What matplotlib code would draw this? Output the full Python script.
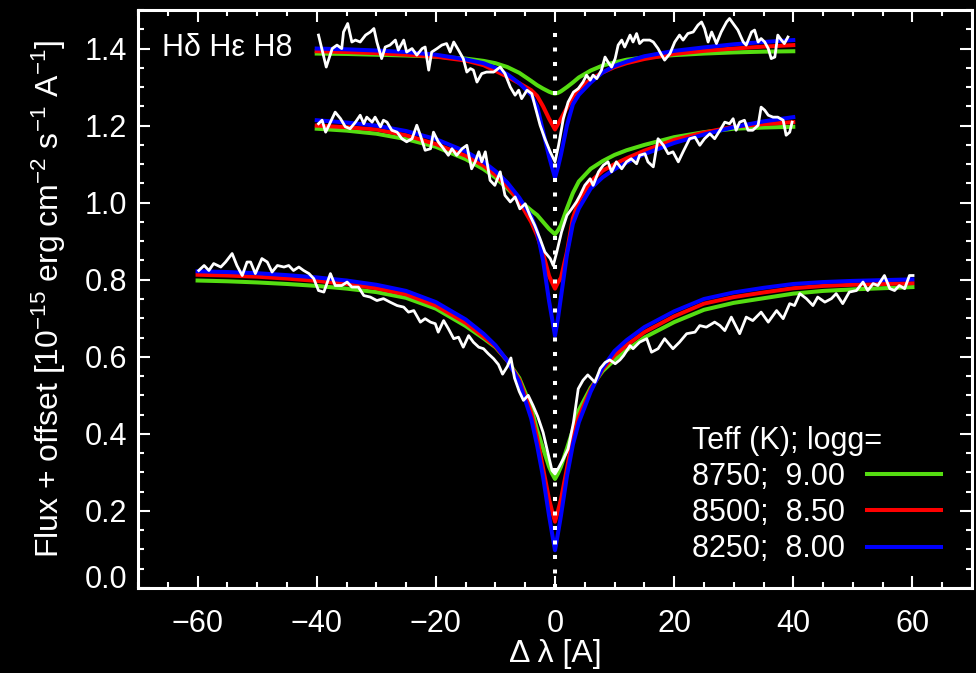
import matplotlib
matplotlib.use("Agg")
import matplotlib.pyplot as plt
from matplotlib.lines import Line2D
from matplotlib.ticker import MultipleLocator

plt.rcParams['font.family'] = ['Liberation Sans', 'DejaVu Sans']
plt.rcParams['mathtext.default'] = 'regular'

# model grids (delta lambda in A)
grid_wide = [-60, -55, -50, -45, -40, -35, -30, -25, -20, -15, -12, -10, -8, -6, -4, -3, -2, -1, -0.5, 0,
             0.5, 1, 2, 3, 4, 6, 8, 10, 12, 15, 20, 25, 30, 35, 40, 45, 50, 55, 60]
grid_narrow = [-40, -35, -30, -25, -20, -15, -12, -10, -8, -6, -4, -3, -2, -1, -0.5, 0,
               0.5, 1, 2, 3, 4, 6, 8, 10, 12, 15, 20, 25, 30, 35, 40]

# H-delta models (no offset)
hd_green = [0.798, 0.796, 0.793, 0.789, 0.784, 0.777, 0.768, 0.753, 0.725, 0.680, 0.648, 0.625, 0.590,
            0.545, 0.470, 0.410, 0.362, 0.315, 0.297, 0.283,
            0.297, 0.315, 0.362, 0.410, 0.462, 0.520, 0.563, 0.592, 0.617, 0.650, 0.690, 0.722, 0.740,
            0.752, 0.764, 0.771, 0.775, 0.778, 0.781]
hd_red = [0.813, 0.811, 0.808, 0.803, 0.797, 0.789, 0.778, 0.762, 0.733, 0.688, 0.652, 0.627, 0.590,
          0.540, 0.455, 0.390, 0.310, 0.230, 0.200, 0.172,
          0.200, 0.230, 0.310, 0.392, 0.445, 0.515, 0.568, 0.604, 0.630, 0.664, 0.705, 0.738, 0.755,
          0.767, 0.778, 0.784, 0.787, 0.789, 0.791]
hd_blue = [0.822, 0.820, 0.817, 0.812, 0.806, 0.798, 0.787, 0.771, 0.742, 0.697, 0.660, 0.630, 0.590,
           0.535, 0.440, 0.370, 0.288, 0.188, 0.142, 0.098,
           0.142, 0.188, 0.290, 0.372, 0.430, 0.510, 0.572, 0.615, 0.643, 0.677, 0.718, 0.750, 0.767,
           0.779, 0.789, 0.794, 0.797, 0.799, 0.801]

# H-epsilon models
he_green = [1.192, 1.187, 1.179, 1.165, 1.145, 1.113, 1.087, 1.065, 1.037, 1.006, 0.980, 0.968, 0.950,
            0.932, 0.925, 0.918,
            0.928, 0.942, 0.985, 1.025, 1.055, 1.088, 1.108, 1.124, 1.136, 1.150, 1.170, 1.183, 1.192,
            1.195, 1.197]
he_red = [1.200, 1.196, 1.190, 1.175, 1.152, 1.122, 1.096, 1.072, 1.042, 1.003, 0.950, 0.915, 0.868,
          0.810, 0.793, 0.777,
          0.793, 0.805, 0.872, 0.960, 1.005, 1.055, 1.083, 1.100, 1.115, 1.135, 1.163, 1.182, 1.197,
          1.204, 1.209]
he_blue = [1.214, 1.208, 1.200, 1.186, 1.165, 1.133, 1.106, 1.082, 1.052, 1.013, 0.965, 0.925, 0.850,
           0.745, 0.700, 0.655,
           0.700, 0.755, 0.865, 0.945, 0.985, 1.037, 1.066, 1.087, 1.104, 1.126, 1.155, 1.177, 1.196,
           1.211, 1.222]

# H8 models
h8_green = [1.387, 1.386, 1.384, 1.382, 1.379, 1.374, 1.368, 1.362, 1.352, 1.337, 1.316, 1.305, 1.296,
            1.288, 1.285, 1.283,
            1.285, 1.289, 1.300, 1.312, 1.325, 1.343, 1.356, 1.364, 1.371, 1.377, 1.383, 1.387, 1.390,
            1.392, 1.393]
h8_red = [1.393, 1.391, 1.388, 1.384, 1.379, 1.369, 1.357, 1.342, 1.327, 1.310, 1.292, 1.277, 1.250,
          1.218, 1.204, 1.190,
          1.204, 1.218, 1.246, 1.275, 1.295, 1.320, 1.338, 1.352, 1.362, 1.373, 1.386, 1.394, 1.400,
          1.405, 1.409]
h8_blue = [1.400, 1.398, 1.395, 1.391, 1.384, 1.372, 1.362, 1.350, 1.333, 1.310, 1.280, 1.250, 1.185,
           1.120, 1.092, 1.065,
           1.092, 1.125, 1.200, 1.255, 1.280, 1.312, 1.338, 1.355, 1.366, 1.380, 1.394, 1.403, 1.411,
           1.417, 1.422]

# observed spectra
hd_obs_x = [-59.8, -58.9, -58.1, -57.3, -56.1, -55.3, -54.2, -53.4, -52.5, -51.7, -51.1, -50.3, -49.2,
            -48.3, -47.5, -46.6, -45.5, -44.7, -43.9, -43.0, -42.2, -41.3, -40.5, -39.7, -38.8, -37.7,
            -36.9, -35.8, -34.9, -34.1, -33.0, -32.1, -31.0, -29.9, -28.8, -27.7, -26.5, -25.4, -24.6,
            -23.7, -22.6, -21.8, -20.9, -20.1, -19.6, -18.7, -17.9, -17.0, -16.2, -15.4, -14.5, -13.7,
            -12.8, -12.0, -11.2, -10.3, -9.5, -8.8, -8.0, -7.4, -6.8, -6.0, -5.3, -4.5, -3.7, -2.9,
            -2.0, -1.1, -0.5, 0.0, 0.5, 1.4, 2.2, 3.1, 3.9, 4.7, 5.5, 6.7, 7.6, 8.4, 9.2, 10.1, 10.9,
            11.5, 12.6, 13.1, 14.2, 15.4, 16.2, 17.3, 18.4, 19.8, 20.9, 22.1, 23.5, 24.3, 25.4, 26.8,
            27.7, 28.5, 29.6, 31.0, 32.1, 33.2, 34.6, 35.8, 37.2, 38.3, 39.4, 40.2, 41.1, 42.2, 43.3,
            44.1, 45.3, 46.4, 47.2, 48.3, 49.4, 50.6, 51.7, 52.5, 53.4, 54.2, 55.3, 56.2, 57.0, 57.8,
            58.7, 59.5, 60.1]
hd_obs_y = [0.824, 0.837, 0.824, 0.842, 0.833, 0.846, 0.868, 0.837, 0.811, 0.846, 0.846, 0.816, 0.855,
            0.846, 0.820, 0.837, 0.833, 0.837, 0.824, 0.833, 0.824, 0.816, 0.803, 0.772, 0.768, 0.816,
            0.785, 0.785, 0.794, 0.781, 0.781, 0.759, 0.755, 0.746, 0.751, 0.742, 0.733, 0.729, 0.716,
            0.720, 0.690, 0.699, 0.690, 0.686, 0.664, 0.694, 0.673, 0.647, 0.651, 0.625, 0.655, 0.638,
            0.625, 0.621, 0.608, 0.595, 0.580, 0.555, 0.575, 0.597, 0.545, 0.510, 0.487, 0.500, 0.474,
            0.445, 0.404, 0.344, 0.305, 0.296, 0.309, 0.335, 0.361, 0.430, 0.517, 0.539, 0.553, 0.534,
            0.570, 0.585, 0.592, 0.582, 0.592, 0.603, 0.629, 0.621, 0.638, 0.647, 0.612, 0.621, 0.647,
            0.621, 0.638, 0.660, 0.664, 0.681, 0.677, 0.690, 0.681, 0.668, 0.703, 0.660, 0.703, 0.694,
            0.716, 0.690, 0.720, 0.699, 0.738, 0.733, 0.764, 0.751, 0.733, 0.755, 0.742, 0.751, 0.764,
            0.738, 0.768, 0.772, 0.794, 0.772, 0.790, 0.785, 0.811, 0.777, 0.772, 0.785, 0.777, 0.811,
            0.811]

he_obs_x = [-39.7, -39.1, -38.5, -37.7, -36.9, -36.0, -35.2, -34.4, -33.5, -32.7, -32.1, -31.6, -30.7,
            -30.2, -29.3, -28.8, -28.2, -27.4, -26.5, -25.7, -24.9, -24.0, -23.2, -22.6, -21.8, -20.9,
            -20.4, -19.6, -18.7, -17.9, -17.3, -16.5, -15.6, -14.8, -14.0, -13.4, -12.8, -12.3, -11.7,
            -10.9, -10.1, -9.2, -8.4, -7.5, -6.7, -5.9, -5.0, -4.2, -3.4, -2.5, -1.7, -0.8, -0.3, 0.3,
            1.1, 2.0, 2.8, 3.6, 4.2, 5.0, 5.9, 6.4, 7.3, 8.1, 8.9, 9.5, 10.3, 11.2, 12.0, 12.8, 13.7,
            14.2, 15.1, 15.6, 16.5, 17.3, 18.2, 19.0, 19.8, 20.7, 21.5, 22.6, 23.5, 24.3, 25.1, 26.0,
            26.8, 27.7, 28.5, 29.3, 29.9, 30.4, 31.0, 31.8, 32.4, 33.2, 34.1, 34.6, 35.2, 35.8, 36.6,
            37.4, 38.3, 38.8, 39.4, 39.8]
he_obs_y = [1.205, 1.214, 1.183, 1.209, 1.235, 1.218, 1.197, 1.192, 1.209, 1.227, 1.205, 1.222, 1.209,
            1.222, 1.197, 1.214, 1.209, 1.188, 1.183, 1.166, 1.158, 1.166, 1.201, 1.175, 1.136, 1.140,
            1.183, 1.158, 1.140, 1.123, 1.140, 1.123, 1.140, 1.149, 1.088, 1.106, 1.132, 1.106, 1.132,
            1.058, 1.045, 1.080, 1.019, 1.002, 1.015, 0.984, 0.997, 0.967, 0.941, 0.906, 0.872, 0.855,
            0.837, 0.872, 0.924, 0.967, 0.984, 1.002, 1.019, 1.045, 1.062, 1.045, 1.080, 1.097, 1.106,
            1.080, 1.106, 1.088, 1.106, 1.114, 1.101, 1.123, 1.127, 1.106, 1.093, 1.166, 1.149, 1.127,
            1.132, 1.106, 1.132, 1.166, 1.170, 1.149, 1.166, 1.179, 1.166, 1.188, 1.209, 1.205, 1.218,
            1.188, 1.209, 1.214, 1.188, 1.188, 1.201, 1.248, 1.240, 1.227, 1.222, 1.222, 1.214, 1.175,
            1.183, 1.209]

h8_obs_x = [-39.7, -38.4, -37.4, -36.6, -35.8, -35.5, -34.8, -34.1, -33.5, -32.7, -31.8, -31.0, -30.4,
            -29.9, -29.1, -28.5, -27.7, -26.8, -26.3, -25.4, -24.9, -24.0, -23.2, -22.3, -21.8, -21.2,
            -20.7, -19.8, -19.0, -18.2, -17.6, -17.0, -16.2, -15.4, -14.8, -14.2, -13.7, -13.1, -12.3,
            -11.5, -10.3, -9.2, -8.4, -7.5, -6.7, -6.1, -5.6, -4.7, -3.9, -3.4, -2.5, -1.7, -0.8, 0.0,
            0.6, 1.4, 2.2, 3.1, 3.9, 4.7, 5.3, 5.9, 6.4, 7.0, 7.8, 8.4, 8.9, 9.5, 10.1, 10.6, 11.2,
            11.7, 12.6, 13.1, 13.7, 14.2, 14.8, 15.9, 16.5, 17.3, 17.9, 18.4, 19.3, 20.1, 20.9, 21.5,
            22.3, 23.2, 24.0, 24.6, 25.1, 25.7, 26.3, 27.1, 27.9, 28.8, 29.3, 29.9, 30.7, 31.6, 32.1,
            33.0, 33.5, 34.1, 34.6, 35.2, 35.8, 36.3, 36.9, 37.4, 38.0, 38.5, 39.1]
h8_obs_y = [1.435, 1.352, 1.400, 1.409, 1.400, 1.443, 1.465, 1.417, 1.422, 1.417, 1.435, 1.443, 1.452,
            1.417, 1.374, 1.404, 1.409, 1.422, 1.396, 1.422, 1.391, 1.400, 1.383, 1.400, 1.404, 1.344,
            1.391, 1.400, 1.409, 1.413, 1.391, 1.417, 1.396, 1.374, 1.339, 1.348, 1.344, 1.313, 1.335,
            1.339, 1.339, 1.352, 1.335, 1.300, 1.279, 1.292, 1.270, 1.292, 1.283, 1.253, 1.201, 1.166,
            1.132, 1.106, 1.149, 1.218, 1.261, 1.287, 1.296, 1.313, 1.331, 1.318, 1.331, 1.322, 1.344,
            1.378, 1.365, 1.352, 1.374, 1.409, 1.422, 1.404, 1.435, 1.417, 1.439, 1.413, 1.422, 1.422,
            1.417, 1.400, 1.383, 1.370, 1.387, 1.417, 1.435, 1.422, 1.439, 1.443, 1.461, 1.469, 1.452,
            1.417, 1.443, 1.413, 1.443, 1.469, 1.478, 1.465, 1.448, 1.417, 1.409, 1.443, 1.448, 1.417,
            1.426, 1.417, 1.400, 1.374, 1.378, 1.435, 1.422, 1.413, 1.430]

model_labels = ['8750;  9.00', '8500;  8.50', '8250;  8.00']
model_colors = ['#55dd11', '#ff0000', '#0000ff']

fs = 22

fig = plt.figure(figsize=(9.76, 6.73), dpi=100, facecolor='black')
ax = fig.add_axes([0.1414, 0.1263, 0.8545, 0.8588], facecolor='black')

lw_model = 2.9
for grid, curves in [(grid_wide, [hd_green, hd_red, hd_blue]),
                     (grid_narrow, [he_green, he_red, he_blue]),
                     (grid_narrow, [h8_green, h8_red, h8_blue])]:
    for flux, col in zip(curves, model_colors):
        ax.plot(grid, flux, color=col, lw=lw_model, solid_joinstyle='round')

for ox, oy in [(hd_obs_x, hd_obs_y), (he_obs_x, he_obs_y), (h8_obs_x, h8_obs_y)]:
    ax.plot(ox, oy, color='white', lw=2.0)

# line centre
ax.vlines(0, 0, 1.45, colors='white', lw=2.9, linestyles=(0, (1, 2.6)))

ax.set_xlim(-70, 70)
ax.set_ylim(0, 1.5)
ax.xaxis.set_major_locator(MultipleLocator(20))
ax.xaxis.set_minor_locator(MultipleLocator(5))
ax.yaxis.set_major_locator(MultipleLocator(0.2))
ax.yaxis.set_minor_locator(MultipleLocator(0.05))
ax.yaxis.set_major_formatter(plt.FuncFormatter(lambda v, p: f'{v:.1f}'))

for s in ax.spines.values():
    s.set_color('white')
    s.set_linewidth(2.2)
ax.tick_params(which='both', direction='in', top=True, right=True,
               color='white', labelcolor='white', width=1.5, labelsize=fs)
ax.tick_params(which='major', length=8.6)
ax.tick_params(which='minor', length=4.3)
ax.tick_params(axis='x', pad=15)
ax.tick_params(axis='y', pad=8)

ax.set_xlabel('Δ λ [A]', color='white', fontsize=23, labelpad=0)
ax.set_ylabel('Flux + offset [10$^{-15}$ erg cm$^{-2}$ s$^{-1}$ A$^{-1}$]',
              color='white', fontsize=23, labelpad=12)

ax.text(0.029, 0.934, 'Hδ Hε H8', transform=ax.transAxes, color='white',
        fontsize=fs, ha='left', va='center')

handles = [Line2D([], [], color=c, lw=lw_model) for c in model_colors]
leg = ax.legend(handles, model_labels, title='Teff (K); logg=', loc='lower right',
                bbox_to_anchor=(0.978, 0.02), borderaxespad=0,
                markerfirst=False, frameon=False, fontsize=fs, title_fontsize=fs,
                handlelength=2.45, handletextpad=0.7, labelspacing=0.2,
                alignment='left')
for t in leg.get_texts():
    t.set_color('white')
leg.get_title().set_color('white')

fig.canvas.draw()
# the 0.0 label sits on the axis rather than centred on it
for tick in ax.yaxis.get_major_ticks():
    if tick.label1.get_text() == '0.0':
        tick.label1.set_verticalalignment('baseline')

fig.savefig('out.png', dpi=100, facecolor='black')
